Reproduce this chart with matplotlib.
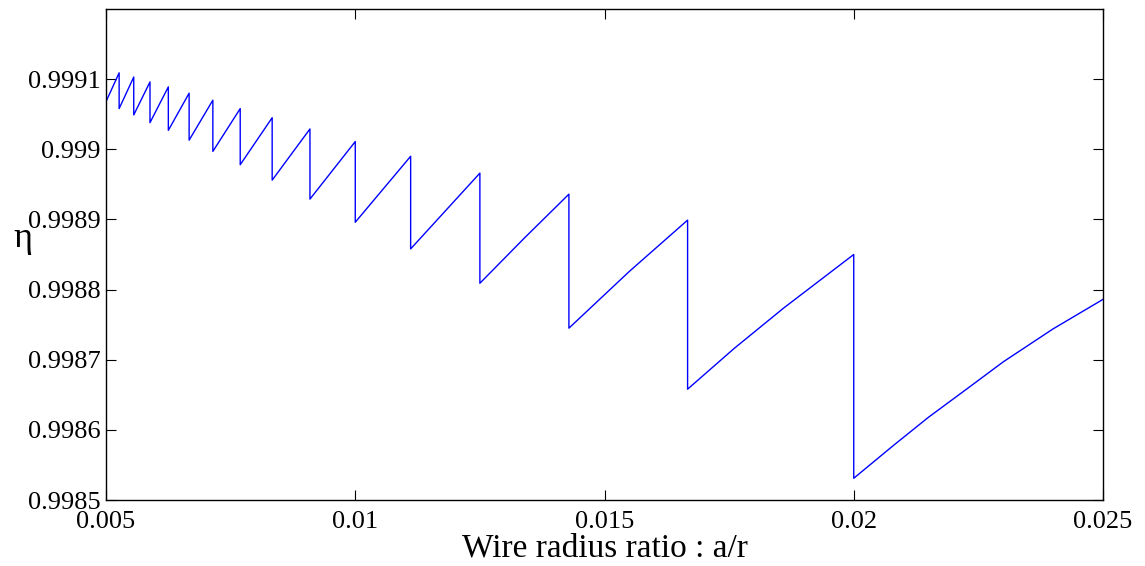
import matplotlib
matplotlib.use("Agg")
import matplotlib.pyplot as plt

plt.rcParams['font.family'] = ['Liberation Serif', 'DejaVu Serif']

# polyline (sawtooth: a jump at each a/r = 1/N)
ratio = [0.005, 0.005, 0.005263, 0.005263, 0.005556, 0.005556, 0.005882, 0.005882,
         0.00625, 0.00625, 0.006667, 0.006667, 0.007143, 0.007143, 0.007692, 0.007692,
         0.008333, 0.008333, 0.009091, 0.009091, 0.01, 0.01, 0.011111, 0.011111,
         0.0125, 0.0125, 0.0134, 0.014286, 0.014286, 0.0155, 0.016667, 0.016667,
         0.0176, 0.0186, 0.02, 0.02, 0.0208, 0.0215, 0.0223, 0.023, 0.024, 0.025]
eta = [0.999114, 0.999068, 0.999109, 0.999058, 0.999103, 0.999049, 0.999096, 0.999038,
       0.999089, 0.999027, 0.999080, 0.999013, 0.999070, 0.998997, 0.999058, 0.998978,
       0.999045, 0.998956, 0.999029, 0.998929, 0.999011, 0.998896, 0.998990, 0.998858,
       0.998966, 0.998809, 0.998874, 0.998936, 0.998745, 0.998826, 0.998899, 0.998658,
       0.998716, 0.998774, 0.998850, 0.998531, 0.998578, 0.998618, 0.998660, 0.998697,
       0.998744, 0.998786]

xticks = [0.005, 0.01, 0.015, 0.02, 0.025]
xticklabels = ['0.005', '0.01', '0.015', '0.02', '0.025']
yticks = [0.9985, 0.9986, 0.9987, 0.9988, 0.9989, 0.999, 0.9991]
yticklabels = ['0.9985', '0.9986', '0.9987', '0.9988', '0.9989', '0.999', '0.9991']

fig = plt.figure(figsize=(11.45, 5.66), dpi=100)
ax = fig.add_axes([0.0926, 0.1166, 0.8707, 0.8675])
ax.plot(ratio, eta, color=(0, 0, 1), lw=1.0)

ax.set_xlim(0.005, 0.025)
ax.set_ylim(0.9985, 0.9992)
ax.set_xticks(xticks)
ax.set_xticklabels(xticklabels)
ax.set_yticks(yticks)
ax.set_yticklabels(yticklabels)
ax.tick_params(direction='in', length=7, width=0.8, top=True, right=True,
               labelsize=19, pad=4)
ax.tick_params(axis='x', pad=8)
for s in ax.spines.values():
    s.set_linewidth(1.0)

ax.set_xlabel('Wire radius ratio : a/r', fontsize=24, labelpad=0)
ax.set_ylabel('η', fontsize=26, rotation=0)
ax.yaxis.set_label_coords(-0.083, 0.50)

fig.savefig('out.png', dpi=100)
